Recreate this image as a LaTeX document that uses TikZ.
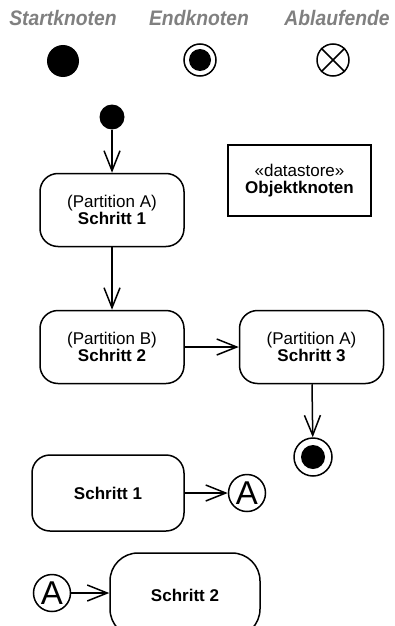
\documentclass[tikz,border=0pt]{standalone}
\usepackage{fontspec}
\setmainfont{Liberation Sans}
\newfontfamily\headfont[FakeStretch=0.92]{Liberation Sans}
\usetikzlibrary{positioning,arrows.meta}

\tikzset{
  action/.style={draw, line width=1.5pt, rounded corners=18pt, minimum width=144pt,
    minimum height=73pt, align=center, font=\fontsize{17}{17}\selectfont},
  flow/.style={line width=1.5pt, -{Straight Barb[length=20pt,width=16pt]}},
  blob/.style={circle, fill, inner sep=0pt},
  ring/.style={circle, draw, line width=1.5pt, inner sep=0pt},
  connector/.style={ring, minimum size=37pt, font=\fontsize{33}{33}\selectfont},
  heading/.style={text=gray, font=\fontsize{21}{21}\headfont\bfseries\itshape},
}

\begin{document}
\begin{tikzpicture}[x=1pt, y=-1pt]
    \clip (0,0) rectangle (394,626);

    % legend
    \foreach \xpos/\name/\txt in {63/hstart/Startknoten,199/hend/Endknoten,337/habl/Ablaufende}
      \node[heading] (\name) at (\xpos,18) {\txt};
    \node[blob, minimum size=32pt] (legstart) at (63,61) {};
    \node[ring, minimum size=32pt] (legend) at (200,60) {};
    \fill (legend) circle (11);
    \node[ring, minimum size=32pt] (legabl) at (333,60) {};
    \draw[line width=1.5pt] (legabl.north west) -- (legabl.south east)
      (legabl.north east) -- (legabl.south west);

    % activity
    \node[blob, minimum size=25pt] (init) at (112,117) {};
    \node[action] (step1) at (112,210) {(Partition A)\\\textbf{Schritt 1}};
    \node[draw, line width=2.5pt, minimum width=143pt, minimum height=71pt, align=center,
      font=\fontsize{17}{17}\selectfont] (store) at (299.5,180.5) {«datastore»\\\textbf{Objektknoten}};
    \node[action] (step2) at (112,347) {(Partition B)\\\textbf{Schritt 2}};
    \node[action] (step3) at (311.5,347) {(Partition A)\\\textbf{Schritt 3}};
    \node[ring, minimum size=38pt] (final) at (313,457) {};
    \fill (final) circle (12);

    \draw[flow] (init) -- (step1);
    \draw[flow] (step1) -- (step2);
    \draw[flow] (step2) -- (step3);
    \draw[flow] (step3) -- (final);

    % connectors
    \node[action, minimum width=152pt, minimum height=76pt] (step1b) at (108,493) {\textbf{Schritt 1}};
    \node[connector] (conA) at (247,493) {A};
    \draw[flow] (step1b) -- (conA);

    \node[connector] (conB) at (52,593) {A};
    \node[action, rounded corners=28pt, minimum width=150pt, minimum height=84pt] (step2b) at (185,595) {\textbf{Schritt 2}};
    \draw[flow] (conB) -- (step2b.west |- conB);
\end{tikzpicture}
\end{document}
